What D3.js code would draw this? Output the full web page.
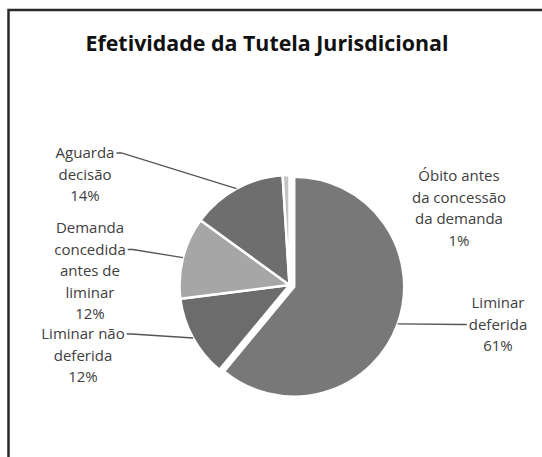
<!DOCTYPE html>
<html>
<head>
<meta charset="utf-8">
<script src="https://cdn.jsdelivr.net/npm/d3@7"></script>
<style>
  body { margin: 0; background: #fff; }
  text { font-family: "Open Sans", Lato, sans-serif; }
</style>
</head>
<body>
<script>
var width = 542,
    height = 457;

// data
var categories = ['Liminar deferida', 'Liminar não deferida', 'Demanda concedida antes de liminar', 'Aguarda decisão', 'Óbito antes da concessão da demanda'];
var values = [61, 12, 12, 14, 1];
var labelLines = [
  ['Liminar', 'deferida', '61%'],
  ['Liminar não', 'deferida', '12%'],
  ['Demanda', 'concedida', 'antes de', 'liminar', '12%'],
  ['Aguarda', 'decisão', '14%'],
  ['Óbito antes', 'da concessão', 'da demanda', '1%']
];
var colors = ['#787878', '#6c6c6c', '#a6a6a6', '#6e6e6e', '#c4c4c4'];

// layout of the labels (x center, y of first line, side of the leader)
var labelPos = [
  {x: 498, y: 302, lead: 'left', line: 1},
  {x: 83, y: 333, lead: 'right', line: 0},
  {x: 90, y: 227, lead: 'right', line: 1},
  {x: 85, y: 152, lead: 'right', line: 0},
  {x: 459, y: 175, lead: null}
];
var lineH = 21.5;

var cx = 289.5, cy = 285, radius = 110, explode = 5;

var svg = d3.select('body')
  .append('svg')
    .attr('width', width)
    .attr('height', height);

// frame
svg.append('rect')
    .attr('x', 8.5)
    .attr('y', 10)
    .attr('width', 700)
    .attr('height', 700)
    .attr('fill', 'none')
    .attr('stroke', '#2a2a2a')
    .attr('stroke-width', 2.5);

svg.append('text')
    .attr('x', 267)
    .attr('y', 43)
    .attr('text-anchor', 'middle')
    .attr('dominant-baseline', 'central')
    .attr('font-size', 21)
    .attr('font-weight', 'bold')
    .attr('fill', '#111')
    .attr('textLength', 363)
    .attr('lengthAdjust', 'spacingAndGlyphs')
    .text('Efetividade da Tutela Jurisdicional');

var pie = d3.pie().sort(null).value(function(d){ return d; });
var arcs = pie(values);
var arc = d3.arc().innerRadius(0).outerRadius(radius);

function offset(d, i){
  if (i !== 0) return [0, 0];
  var a = (d.startAngle + d.endAngle) / 2;
  return [Math.sin(a) * explode, -Math.cos(a) * explode];
}

var g = svg.append('g').attr('transform', 'translate(' + cx + ',' + cy + ')');

g.selectAll('path')
    .data(arcs).enter()
  .append('path')
    .attr('d', arc)
    .attr('transform', function(d, i){ var o = offset(d, i); return 'translate(' + o[0] + ',' + o[1] + ')'; })
    .attr('fill', function(d, i){ return colors[i]; })
    .attr('stroke', '#fff')
    .attr('stroke-width', 2.5)
    .attr('stroke-linejoin', 'miter');

// labels
arcs.forEach(function(d, i){
  var p = labelPos[i];
  var t = svg.append('text')
      .attr('text-anchor', 'middle')
      .attr('font-size', 15)
      .attr('fill', '#404040');
  var widths = [];
  labelLines[i].forEach(function(s, k){
    var ts = t.append('tspan')
        .attr('x', p.x)
        .attr('y', p.y + k * lineH)
        .attr('dominant-baseline', 'central')
        .text(s);
    widths.push(ts.node().getComputedTextLength());
  });
  if (!p.lead) return;
  var a = (d.startAngle + d.endAngle) / 2;
  var o = offset(d, i);
  var ex = cx + o[0] + Math.sin(a) * radius,
      ey = cy + o[1] - Math.cos(a) * radius;
  var w = widths[p.line];
  var ly = p.y + p.line * lineH + 1;
  var lx = p.lead === 'right' ? p.x + w / 2 + 2 : p.x - w / 2 - 2;
  var lx2 = p.lead === 'right' ? lx + 5 : lx - 5;
  svg.append('path')
      .attr('d', d3.line()([[lx, ly], [lx2, ly], [ex, ey]]))
      .attr('fill', 'none')
      .attr('stroke', '#555')
      .attr('stroke-width', 1.3);
});
</script>
</body>
</html>
